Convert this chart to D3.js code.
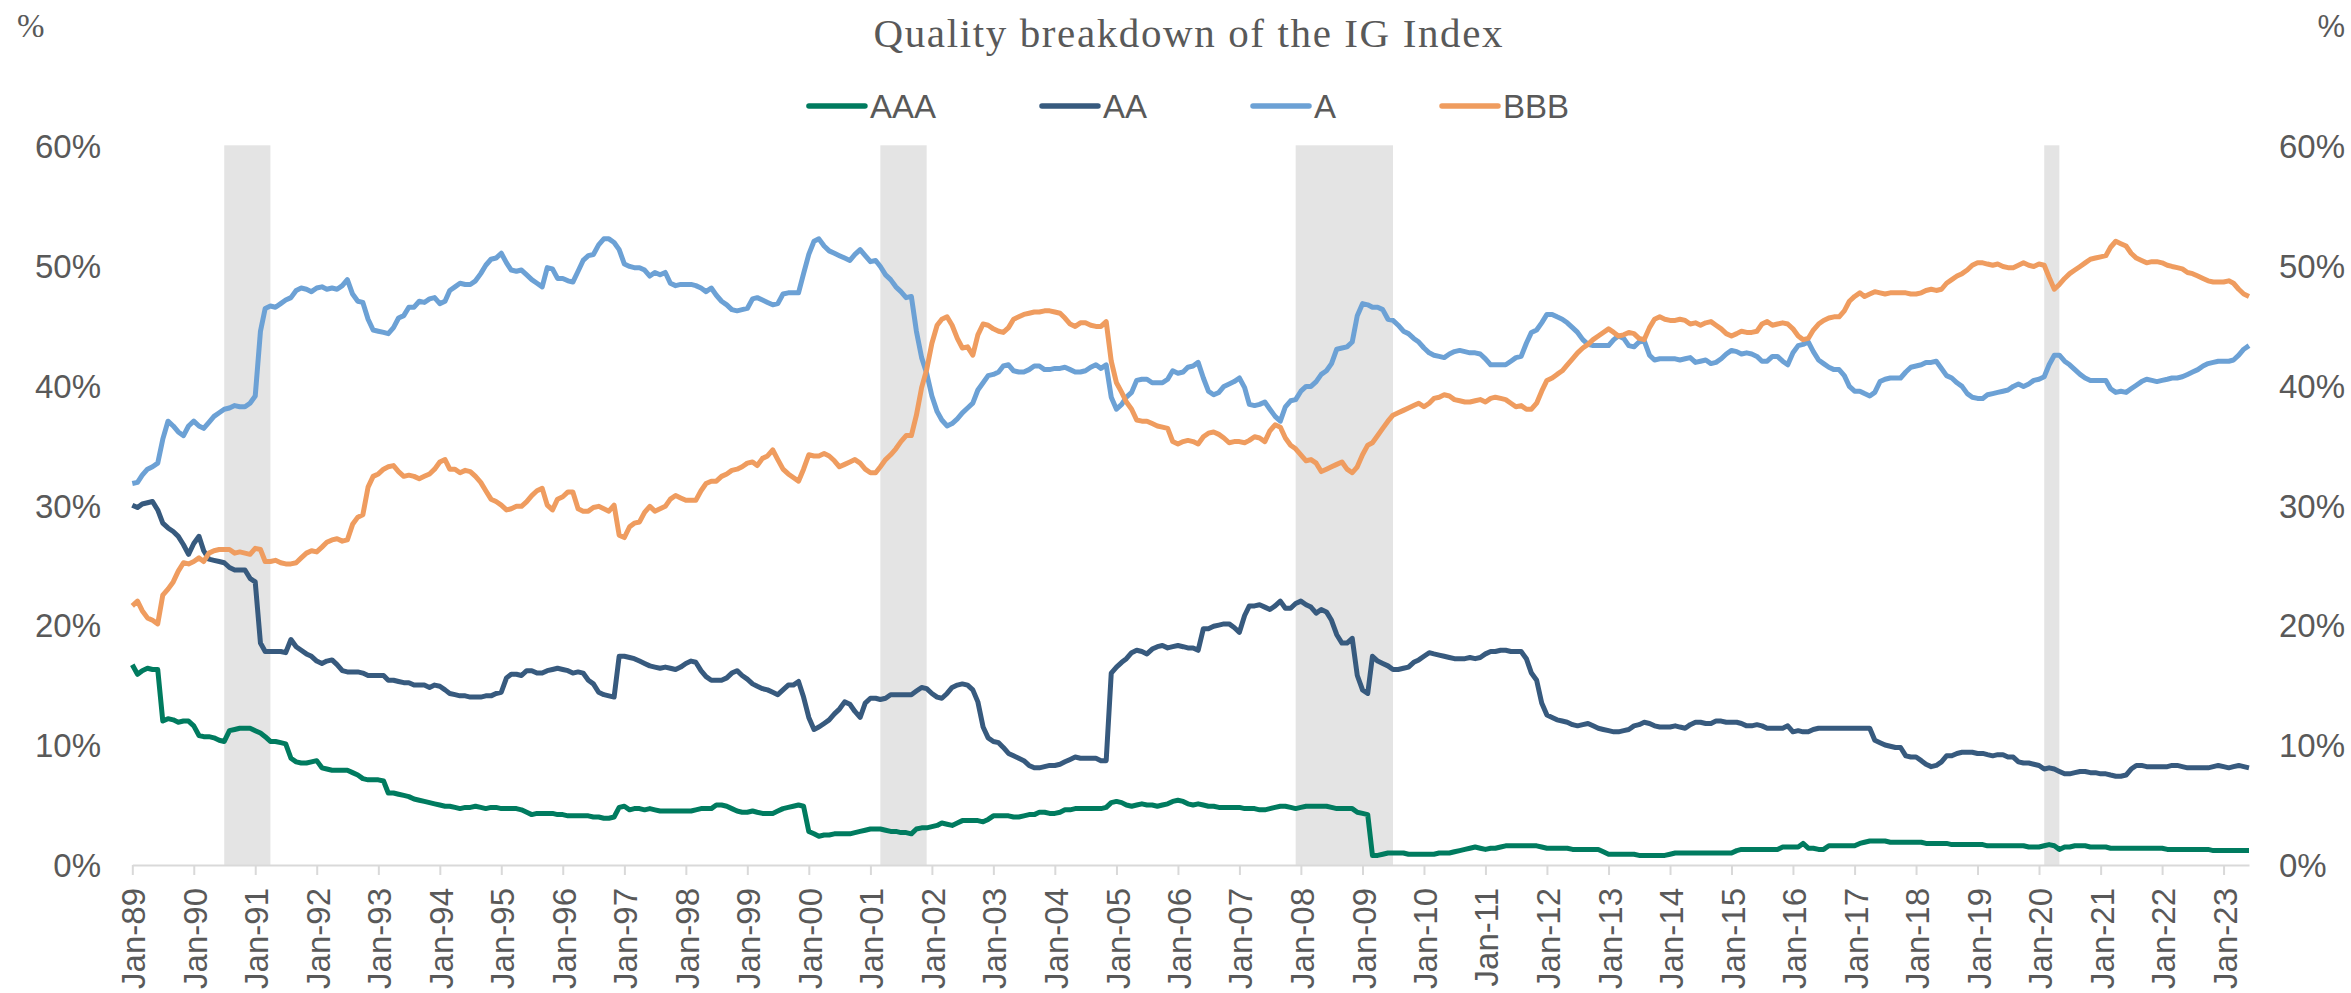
<!DOCTYPE html>
<html>
<head>
<meta charset="utf-8">
<script src="https://cdn.jsdelivr.net/npm/d3@7"></script>
<style>
  html, body { margin: 0; padding: 0; background: #ffffff; }
  svg { display: block; }
</style>
</head>
<body>
<svg id="chart" width="2351" height="993"></svg>
<script>
// Monthly share of the IG index by rating bucket (%), Jan-1989 onwards
const firstMonth = "1989-01-01";
const seriesNames = ["AAA", "AA", "A", "BBB"];

const aaa = [
  16.7,15.9,16.2,16.4,16.3,16.3,12.0,12.2,12.1,11.9,
  12.0,12.0,11.6,10.8,10.7,10.7,10.6,10.4,10.3,11.2,
  11.3,11.4,11.4,11.4,11.2,11.0,10.7,10.3,10.3,10.2,
  10.1,8.9,8.6,8.5,8.5,8.6,8.7,8.1,8.0,7.9,
  7.9,7.9,7.9,7.7,7.5,7.2,7.1,7.1,7.1,7.0,
  6.0,6.0,5.9,5.8,5.7,5.5,5.4,5.3,5.2,5.1,
  5.0,4.9,4.9,4.8,4.7,4.8,4.8,4.9,4.8,4.7,
  4.8,4.8,4.7,4.7,4.7,4.7,4.6,4.4,4.2,4.3,
  4.3,4.3,4.3,4.2,4.2,4.1,4.1,4.1,4.1,4.1,
  4.0,4.0,3.9,3.9,4.0,4.8,4.9,4.6,4.7,4.7,
  4.6,4.7,4.6,4.5,4.5,4.5,4.5,4.5,4.5,4.5,
  4.6,4.7,4.7,4.7,5.0,5.0,4.9,4.7,4.5,4.4,
  4.4,4.5,4.4,4.3,4.3,4.3,4.5,4.7,4.8,4.9,
  5.0,4.9,2.8,2.6,2.4,2.5,2.5,2.6,2.6,2.6,
  2.6,2.7,2.8,2.9,3.0,3.0,3.0,2.9,2.8,2.8,
  2.7,2.7,2.6,3.0,3.1,3.1,3.2,3.3,3.5,3.4,
  3.3,3.5,3.7,3.7,3.7,3.7,3.6,3.8,4.1,4.1,
  4.1,4.1,4.0,4.0,4.1,4.2,4.2,4.4,4.4,4.3,
  4.3,4.4,4.6,4.6,4.7,4.7,4.7,4.7,4.7,4.7,
  4.8,5.2,5.3,5.2,5.0,4.9,5.0,5.1,5.0,5.0,
  4.9,5.0,5.1,5.3,5.4,5.3,5.1,5.0,5.1,5.0,
  4.9,4.9,4.8,4.8,4.8,4.8,4.8,4.7,4.7,4.7,
  4.6,4.6,4.7,4.8,4.9,4.9,4.8,4.7,4.8,4.9,
  4.9,4.9,4.9,4.9,4.8,4.7,4.7,4.7,4.7,4.4,
  4.3,4.2,0.8,0.8,0.9,1.0,1.0,1.0,1.0,0.9,
  0.9,0.9,0.9,0.9,0.9,1.0,1.0,1.0,1.1,1.2,
  1.3,1.4,1.5,1.4,1.3,1.4,1.4,1.5,1.6,1.6,
  1.6,1.6,1.6,1.6,1.6,1.5,1.4,1.4,1.4,1.4,
  1.4,1.3,1.3,1.3,1.3,1.3,1.3,1.1,0.9,0.9,
  0.9,0.9,0.9,0.9,0.8,0.8,0.8,0.8,0.8,0.8,
  0.9,1.0,1.0,1.0,1.0,1.0,1.0,1.0,1.0,1.0,
  1.0,1.0,1.0,1.2,1.3,1.3,1.3,1.3,1.3,1.3,
  1.3,1.3,1.5,1.5,1.5,1.5,1.8,1.4,1.4,1.3,
  1.3,1.6,1.6,1.6,1.6,1.6,1.6,1.8,1.9,2.0,
  2.0,2.0,2.0,1.9,1.9,1.9,1.9,1.9,1.9,1.9,
  1.8,1.8,1.8,1.8,1.8,1.7,1.7,1.7,1.7,1.7,
  1.7,1.7,1.6,1.6,1.6,1.6,1.6,1.6,1.6,1.6,
  1.5,1.5,1.5,1.6,1.7,1.6,1.3,1.5,1.5,1.6,
  1.6,1.6,1.5,1.5,1.5,1.5,1.4,1.4,1.4,1.4,
  1.4,1.4,1.4,1.4,1.4,1.4,1.4,1.3,1.3,1.3,
  1.3,1.3,1.3,1.3,1.3,1.3,1.2,1.2,1.2,1.2,
  1.2,1.2,1.2,1.2
];

const aa = [
  30.0,29.8,30.1,30.2,30.3,29.6,28.5,28.1,27.8,27.4,
  26.7,25.9,26.8,27.4,26.2,25.5,25.4,25.3,25.2,24.8,
  24.6,24.6,24.6,23.9,23.6,18.5,17.8,17.8,17.8,17.8,
  17.7,18.8,18.2,17.9,17.6,17.4,17.0,16.8,17.0,17.1,
  16.7,16.2,16.1,16.1,16.1,16.0,15.8,15.8,15.8,15.8,
  15.4,15.4,15.3,15.2,15.2,15.0,15.0,15.0,14.8,15.0,
  14.9,14.6,14.3,14.2,14.1,14.1,14.0,14.0,14.0,14.1,
  14.1,14.3,14.4,15.6,15.9,15.9,15.8,16.2,16.2,16.0,
  16.0,16.2,16.3,16.4,16.3,16.2,16.0,16.1,16.0,15.4,
  15.1,14.4,14.2,14.1,14.0,17.4,17.4,17.3,17.2,17.0,
  16.8,16.6,16.5,16.4,16.5,16.4,16.3,16.5,16.8,17.0,
  16.9,16.2,15.7,15.4,15.4,15.4,15.6,16.0,16.2,15.8,
  15.5,15.1,14.9,14.7,14.6,14.4,14.2,14.6,15.0,15.0,
  15.3,14.0,12.3,11.3,11.5,11.8,12.1,12.6,13.0,13.6,
  13.4,12.8,12.3,13.5,13.9,13.9,13.8,13.9,14.2,14.2,
  14.2,14.2,14.2,14.5,14.8,14.7,14.3,14.0,13.9,14.3,
  14.8,15.0,15.1,15.0,14.6,13.6,11.5,10.6,10.3,10.2,
  9.8,9.3,9.1,8.9,8.7,8.3,8.1,8.1,8.2,8.3,
  8.3,8.4,8.6,8.8,9.0,8.9,8.9,8.9,8.9,8.7,
  8.7,16.0,16.5,16.9,17.2,17.7,17.9,17.8,17.6,18.0,
  18.2,18.3,18.1,18.2,18.3,18.2,18.1,18.1,17.9,19.7,
  19.7,19.9,20.0,20.1,20.1,19.8,19.4,20.8,21.6,21.6,
  21.7,21.5,21.3,21.6,22.0,21.4,21.4,21.8,22.0,21.7,
  21.5,21.0,21.3,21.1,20.4,19.2,18.5,18.5,18.9,15.8,
  14.6,14.3,17.4,17.0,16.8,16.6,16.3,16.3,16.4,16.5,
  16.9,17.1,17.4,17.7,17.6,17.5,17.4,17.3,17.2,17.2,
  17.2,17.3,17.2,17.3,17.6,17.8,17.8,17.9,17.9,17.8,
  17.8,17.8,17.2,16.0,15.4,13.5,12.5,12.3,12.1,12.0,
  11.9,11.7,11.6,11.7,11.8,11.6,11.4,11.3,11.2,11.1,
  11.1,11.2,11.3,11.6,11.7,11.9,11.8,11.6,11.5,11.5,
  11.5,11.6,11.5,11.4,11.7,11.9,11.9,11.8,11.8,12.0,
  12.0,11.9,11.9,11.9,11.8,11.6,11.6,11.7,11.6,11.4,
  11.4,11.4,11.4,11.6,11.1,11.2,11.1,11.1,11.3,11.4,
  11.4,11.4,11.4,11.4,11.4,11.4,11.4,11.4,11.4,11.4,
  10.4,10.2,10.0,9.9,9.8,9.8,9.1,9.0,9.0,8.7,
  8.4,8.2,8.3,8.6,9.1,9.1,9.3,9.4,9.4,9.4,
  9.3,9.3,9.2,9.1,9.2,9.2,9.0,9.0,8.6,8.5,
  8.5,8.4,8.3,8.0,8.1,8.0,7.8,7.6,7.6,7.7,
  7.8,7.8,7.7,7.7,7.6,7.6,7.5,7.4,7.4,7.5,
  8.0,8.3,8.3,8.2,8.2,8.2,8.2,8.2,8.3,8.3,
  8.2,8.1,8.1,8.1,8.1,8.1,8.2,8.3,8.2,8.1,
  8.2,8.3,8.2,8.1
];

const a = [
  31.8,31.9,32.5,33.0,33.2,33.5,35.5,37.0,36.6,36.1,
  35.8,36.6,37.0,36.6,36.4,36.9,37.4,37.7,38.0,38.1,
  38.3,38.2,38.2,38.5,39.1,44.5,46.4,46.6,46.5,46.8,
  47.1,47.3,47.9,48.1,48.0,47.8,48.1,48.2,48.0,48.1,
  48.0,48.3,48.8,47.6,47.0,46.9,45.5,44.6,44.5,44.4,
  44.3,44.8,45.6,45.8,46.5,46.5,47.0,46.9,47.2,47.3,
  46.8,47.0,47.9,48.2,48.5,48.4,48.4,48.7,49.3,50.0,
  50.5,50.6,51.0,50.2,49.6,49.5,49.6,49.2,48.8,48.5,
  48.2,49.8,49.7,48.9,48.9,48.7,48.6,49.5,50.4,50.8,
  50.9,51.7,52.2,52.2,51.9,51.3,50.1,49.9,49.8,49.8,
  49.6,49.1,49.4,49.2,49.4,48.5,48.3,48.4,48.4,48.4,
  48.3,48.1,47.8,48.1,47.5,47.0,46.7,46.3,46.2,46.3,
  46.4,47.2,47.3,47.1,46.9,46.7,46.8,47.6,47.7,47.7,
  47.7,49.3,50.9,52.0,52.2,51.6,51.2,51.0,50.8,50.6,
  50.4,50.9,51.3,50.8,50.3,50.4,49.9,49.2,48.8,48.2,
  47.8,47.3,47.4,44.5,42.3,41.0,39.1,37.8,37.1,36.6,
  36.8,37.2,37.7,38.1,38.5,39.6,40.2,40.8,40.9,41.1,
  41.6,41.7,41.2,41.1,41.1,41.3,41.6,41.6,41.3,41.3,
  41.4,41.4,41.5,41.3,41.1,41.1,41.2,41.5,41.7,41.4,
  41.7,39.0,38.0,38.4,39.0,39.4,40.4,40.5,40.5,40.2,
  40.2,40.2,40.5,41.2,41.0,41.1,41.5,41.6,41.9,40.6,
  39.5,39.2,39.4,39.9,40.1,40.3,40.6,39.8,38.4,38.3,
  38.4,38.6,38.0,37.4,37.0,38.2,38.7,38.8,39.5,39.9,
  39.9,40.3,40.9,41.2,41.8,43.0,43.1,43.2,43.6,45.8,
  46.8,46.7,46.5,46.5,46.3,45.5,45.4,45.0,44.5,44.3,
  43.9,43.6,43.1,42.7,42.5,42.4,42.3,42.6,42.8,42.9,
  42.8,42.7,42.7,42.6,42.2,41.7,41.7,41.7,41.7,42.0,
  42.3,42.4,43.5,44.4,44.6,45.2,45.9,45.9,45.7,45.5,
  45.2,44.8,44.4,43.8,43.4,43.3,43.3,43.3,43.3,43.8,
  44.1,43.9,43.3,43.2,43.6,43.7,42.5,42.1,42.2,42.2,
  42.2,42.2,42.1,42.2,42.3,41.9,42.0,42.1,41.8,41.9,
  42.2,42.6,42.9,42.8,42.6,42.7,42.6,42.4,42.0,42.0,
  42.4,42.4,42.0,41.7,42.7,43.3,43.4,43.6,42.8,42.1,
  41.8,41.5,41.3,41.3,40.8,39.9,39.5,39.5,39.3,39.1,
  39.4,40.3,40.5,40.6,40.6,40.6,41.1,41.5,41.6,41.7,
  41.9,41.9,42.0,41.4,40.8,40.6,40.2,39.9,39.3,39.0,
  38.9,38.9,39.2,39.3,39.4,39.5,39.6,39.9,40.1,39.9,
  40.1,40.4,40.5,40.7,41.7,42.5,42.5,42.0,41.7,41.3,
  40.9,40.6,40.4,40.4,40.4,40.4,39.7,39.4,39.5,39.4,
  39.7,40.0,40.3,40.5,40.4,40.3,40.4,40.5,40.6,40.6,
  40.7,40.9,41.1,41.3,41.6,41.8,41.9,42.0,42.0,42.0,
  42.1,42.5,43.0,43.3
];

const bbb = [
  21.6,22.0,21.2,20.6,20.4,20.1,22.5,23.0,23.6,24.5,
  25.2,25.1,25.3,25.6,25.3,26.0,26.2,26.3,26.3,26.3,
  26.0,26.1,26.0,25.9,26.4,26.3,25.3,25.3,25.4,25.2,
  25.1,25.1,25.2,25.6,26.0,26.2,26.1,26.5,26.9,27.1,
  27.2,27.0,27.1,28.4,29.0,29.2,31.5,32.4,32.6,33.0,
  33.2,33.3,32.8,32.4,32.5,32.4,32.2,32.4,32.6,33.0,
  33.6,33.8,33.0,33.0,32.7,32.9,32.8,32.4,31.9,31.2,
  30.5,30.3,30.0,29.6,29.7,29.9,29.9,30.3,30.8,31.2,
  31.4,30.0,29.6,30.5,30.7,31.1,31.1,29.7,29.5,29.5,
  29.8,29.9,29.7,29.5,30.0,27.5,27.3,28.2,28.5,28.6,
  29.4,29.9,29.5,29.7,29.9,30.5,30.8,30.6,30.4,30.4,
  30.4,31.2,31.8,32.0,32.0,32.4,32.6,32.9,33.0,33.2,
  33.5,33.6,33.3,33.9,34.1,34.6,33.8,33.0,32.6,32.3,
  32.0,33.0,34.2,34.1,34.1,34.3,34.1,33.7,33.2,33.4,
  33.6,33.8,33.5,33.0,32.7,32.7,33.2,33.8,34.2,34.7,
  35.3,35.8,35.8,37.5,39.8,41.3,43.5,45.0,45.5,45.7,
  45.0,43.9,43.1,43.2,42.5,44.2,45.1,45.0,44.7,44.5,
  44.4,44.8,45.5,45.7,45.9,46.0,46.1,46.1,46.2,46.2,
  46.1,46.0,45.6,45.1,44.9,45.2,45.2,45.0,44.9,44.9,
  45.3,42.0,40.2,39.4,38.6,38.0,37.1,37.0,37.0,36.8,
  36.6,36.5,36.4,35.3,35.1,35.3,35.4,35.3,35.1,35.7,
  36.0,36.1,35.9,35.6,35.2,35.3,35.3,35.2,35.4,35.7,
  35.6,35.3,36.2,36.7,36.5,35.6,35.0,34.7,34.2,33.7,
  33.8,33.5,32.8,33.0,33.2,33.4,33.6,33.0,32.7,33.2,
  34.2,35.0,35.2,35.8,36.4,37.0,37.5,37.7,37.9,38.1,
  38.3,38.5,38.2,38.5,38.9,39.0,39.2,39.1,38.8,38.7,
  38.6,38.6,38.7,38.8,38.6,38.9,39.0,38.9,38.8,38.5,
  38.2,38.3,38.0,38.0,38.5,39.5,40.4,40.6,40.9,41.2,
  41.7,42.2,42.7,43.1,43.4,43.8,44.1,44.4,44.7,44.4,
  44.1,44.2,44.4,44.3,43.9,43.8,44.8,45.5,45.7,45.5,
  45.4,45.4,45.5,45.4,45.1,45.2,45.0,45.2,45.3,45.0,
  44.7,44.3,44.1,44.3,44.5,44.4,44.4,44.5,45.1,45.3,
  45.0,45.1,45.2,45.1,44.7,44.1,43.8,43.9,44.6,45.1,
  45.4,45.6,45.7,45.7,46.2,47.0,47.4,47.7,47.4,47.6,
  47.8,47.7,47.6,47.7,47.7,47.7,47.7,47.6,47.6,47.7,
  47.9,48.0,47.9,48.0,48.5,48.8,49.1,49.3,49.6,50.0,
  50.2,50.2,50.1,50.0,50.1,49.9,49.8,49.8,50.0,50.2,
  50.0,49.9,50.1,50.0,49.0,48.0,48.4,48.9,49.3,49.6,
  49.9,50.2,50.5,50.6,50.7,50.8,51.5,52.0,51.8,51.6,
  51.0,50.6,50.4,50.2,50.3,50.3,50.2,50.0,49.9,49.8,
  49.7,49.4,49.3,49.1,48.9,48.7,48.6,48.6,48.6,48.7,
  48.5,48.0,47.6,47.4
];

// US recession periods (start month, first month after)
const recessionStarts = ["1990-07-01", "2001-03-01", "2007-12-01", "2020-02-01"];
const recessionEnds   = ["1991-04-01", "2001-12-01", "2009-07-01", "2020-05-01"];

const yTicks = [0, 10, 20, 30, 40, 50, 60];
const titleText = "Quality breakdown of the IG Index";

// ---- styling ----
const colors = { AAA: "#007B5F", AA: "#375A7E", A: "#6CA1D5", BBB: "#EF9C5F" };
const textColor = "#595959";
const sans = "'Liberation Sans', Arial, Helvetica, sans-serif";
const serif = "'Liberation Serif', 'Times New Roman', serif";

const svg = d3.select("#chart");
svg.append("rect").attr("width", 2351).attr("height", 993).attr("fill", "#ffffff");

const parse = d3.utcParse("%Y-%m-%d");
const start = parse(firstMonth);
const values = { AAA: aaa, AA: aa, A: a, BBB: bbb };
const nMonths = aaa.length;
const dates = d3.range(nMonths).map(i => d3.utcMonth.offset(start, i));
const lastDate = dates[nMonths - 1];

const x = d3.scaleUtc()
  .domain([start, lastDate])
  .range([132.3, 2249]);
const y = d3.scaleLinear().domain([0, 60]).range([865, 145.3]);

// recession shading
svg.append("g").selectAll("rect")
  .data(d3.range(recessionStarts.length))
  .join("rect")
  .attr("x", i => x(parse(recessionStarts[i])))
  .attr("width", i => x(parse(recessionEnds[i])) - x(parse(recessionStarts[i])))
  .attr("y", y(60))
  .attr("height", y(0) - y(60))
  .attr("fill", "#E4E4E4");

// x axis: one tick per January within the data
const years = d3.utcYear.range(start, d3.utcMonth.offset(lastDate, 1));
const xAxis = svg.append("g")
  .attr("transform", `translate(0,${y(0)})`)
  .call(d3.axisBottom(x)
    .tickValues(years)
    .tickSize(10)
    .tickSizeOuter(0)
    .tickFormat(d3.utcFormat("%b-%y")));
xAxis.select(".domain").attr("stroke", "#D9D9D9").attr("stroke-width", 2);
xAxis.selectAll(".tick line").attr("stroke", "#D9D9D9").attr("stroke-width", 2);
xAxis.selectAll(".tick text")
  .attr("transform", "rotate(-90)")
  .attr("x", -23)
  .attr("y", 0)
  .attr("dy", "0.38em")
  .attr("text-anchor", "end")
  .attr("fill", textColor)
  .style("font-family", sans)
  .style("font-size", "33px");

// y axes (left and right)
function styleY(g) {
  g.select(".domain").remove();
  g.selectAll(".tick line").remove();
  g.selectAll(".tick text")
    .attr("fill", textColor)
    .attr("dy", "0.36em")
    .style("font-family", sans)
    .style("font-size", "33px");
}
svg.append("g").attr("transform", "translate(101,0)")
  .call(d3.axisLeft(y).tickValues(yTicks).tickSize(0).tickPadding(0).tickFormat(d => d + "%"))
  .call(styleY);
svg.append("g").attr("transform", "translate(2279,0)")
  .call(d3.axisRight(y).tickValues(yTicks).tickSize(0).tickPadding(0).tickFormat(d => d + "%"))
  .call(styleY);

// series lines
const line = d3.line()
  .x((d, i) => x(dates[i]))
  .y(d => y(d));
svg.append("g").selectAll("path")
  .data(seriesNames)
  .join("path")
  .attr("d", k => line(values[k]))
  .attr("fill", "none")
  .attr("stroke", k => colors[k])
  .attr("stroke-width", 5)
  .attr("stroke-linejoin", "round");

// title
svg.append("text")
  .attr("x", 1188).attr("y", 47)
  .attr("text-anchor", "middle")
  .attr("fill", textColor)
  .attr("textLength", 629)
  .attr("lengthAdjust", "spacing")
  .style("font-family", serif)
  .style("font-size", "41px")
  .text(titleText);

// unit markers
svg.append("text")
  .attr("x", 17).attr("y", 37)
  .attr("fill", textColor)
  .style("font-family", serif)
  .style("font-size", "33px")
  .text("%");
svg.append("text")
  .attr("x", 2345).attr("y", 37)
  .attr("text-anchor", "end")
  .attr("fill", textColor)
  .style("font-family", sans)
  .style("font-size", "31px")
  .text("%");

// legend
const legend = svg.append("g");
const swatch = 56, swGap = 5, itemGap = 106, legendY = 106;
let cursor = 0;
seriesNames.forEach(k => {
  const item = legend.append("g").attr("transform", `translate(${cursor},0)`);
  item.append("line")
    .attr("x1", 0).attr("x2", swatch)
    .attr("y1", legendY).attr("y2", legendY)
    .attr("stroke", colors[k]).attr("stroke-width", 5.5)
    .attr("stroke-linecap", "round");
  const t = item.append("text")
    .attr("x", swatch + swGap).attr("y", legendY)
    .attr("dy", "0.36em")
    .attr("fill", textColor)
    .style("font-family", sans)
    .style("font-size", "33px")
    .text(k);
  cursor += swatch + swGap + t.node().getComputedTextLength() + itemGap;
});
const legendWidth = cursor - itemGap;
legend.attr("transform", `translate(${1189 - legendWidth / 2},0)`);
</script>
</body>
</html>
